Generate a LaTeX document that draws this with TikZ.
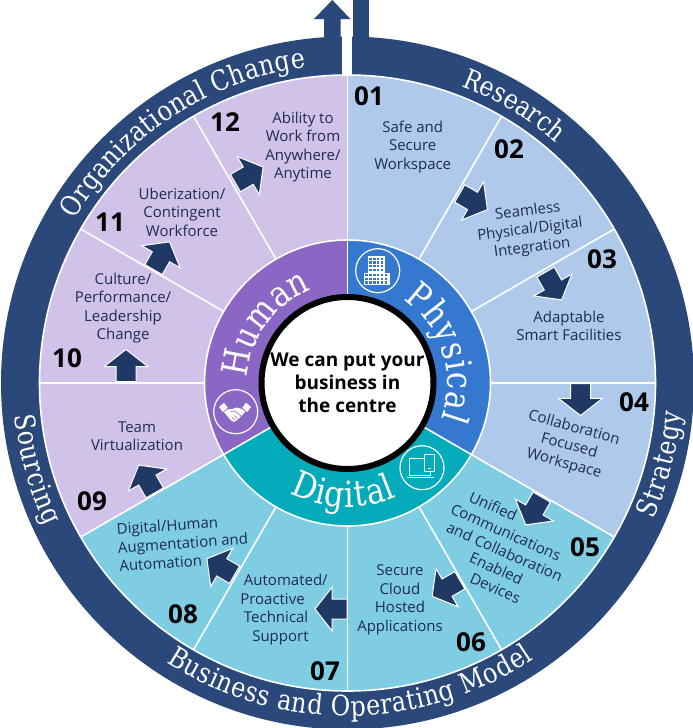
\documentclass[tikz,border=0pt]{standalone}
\usepackage{fontspec}
\setmainfont{Open Sans}
\newfontfamily\slab[FakeStretch=0.85]{DejaVu Serif}
\usetikzlibrary{decorations.text,shapes.arrows}
\definecolor{ringc}{HTML}{2A4879}
\definecolor{arrowc}{HTML}{1F3864}
\definecolor{lblue}{HTML}{AEC9EA}
\definecolor{lcyan}{HTML}{7FCDE3}
\definecolor{llilac}{HTML}{D1C2E9}
\definecolor{physc}{HTML}{3578CF}
\definecolor{digc}{HTML}{03ABBB}
\definecolor{humc}{HTML}{8A67C4}
\definecolor{labelc}{HTML}{1F2B52}
\tikzset{
  lab/.style={align=center,font=\fontsize{15}{18.5}\selectfont,text=labelc,inner sep=0pt},
  num/.style={font=\fontsize{26}{28}\selectfont\bfseries,text=black,inner sep=0pt},
  blockarrow/.style={single arrow,draw=white,line width=1pt,fill=arrowc,inner xsep=0pt,inner ysep=9.5pt,
    minimum height=32pt,single arrow head extend=12pt,
    single arrow tip angle=104,anchor=tail},
  iconring/.style={draw=white,line width=1.2pt},
  divider/.style={draw=white,line width=1.6pt}
}
\newcommand\ringtext[5]{\path[decorate,decoration={text along path,text align=fit to path,
  text={|\slab\fontsize{#1}{#1}\selectfont\color{white}|#2}}]
  (#4:#3) arc[start angle=#4,end angle=#5,radius=#3];}
\begin{document}
\begin{tikzpicture}[x=1pt,y=-1pt]
\useasboundingbox (0,0) rectangle (693,728);
\fill[white] (0,0) rectangle (693,728);
% outer ring
\fill[ringc,even odd rule] (347.5,383) circle (346.5) circle (307);
\fill[white] (341.5,0) rectangle (352,80);
\fill[ringc] (352.7,0) rectangle (369,45);
\fill[ringc] (324,50) -- (324,19) -- (314,19) -- (332.3,0) -- (350.5,19) -- (340.7,19) -- (340.7,50) -- cycle;
\begin{scope}[shift={(347.5,383)},y=1pt]
  \fill[lblue] (0,0) -- (90:308) arc[start angle=90,end angle=-30,radius=308] -- cycle;
  \fill[lcyan] (0,0) -- (-30:308) arc[start angle=-30,end angle=-150,radius=308] -- cycle;
  \fill[llilac] (0,0) -- (-150:308) arc[start angle=-150,end angle=-270,radius=308] -- cycle;
  \draw[divider] (0,0) circle (308);
  \foreach \a in {0,30,...,330} \draw[divider] (\a:143) -- (\a:308);
  \fill[physc] (0,0) -- (90:143) arc[start angle=90,end angle=-30,radius=143] -- cycle;
  \fill[digc] (0,0) -- (-30:143) arc[start angle=-30,end angle=-150,radius=143] -- cycle;
  \fill[humc] (0,0) -- (-150:143) arc[start angle=-150,end angle=-270,radius=143] -- cycle;
  \draw[divider] (0,0) circle (143);
  \foreach \a in {90,-30,-150} \draw[divider] (\a:89) -- (\a:143);
  \ringtext{27.5}{Research}{318}{69}{49}
  \ringtext{28}{Organizational Change}{318}{149}{97.5}
  \ringtext{28}{Strategy}{335}{-24}{-5}
  \ringtext{28}{Sourcing}{334}{185.5}{205.5}
  \ringtext{28}{Business and Operating Model}{333}{237}{304}
  \ringtext{36}{Physical}{100}{56}{-21}
  \ringtext{36}{Human}{100}{177}{111}
  \ringtext{36}{Digital}{124}{242}{293.5}
\end{scope}
% centre
\node[circle,draw=black,line width=6pt,fill=white,minimum size=172pt,inner sep=0pt,align=center,
  font=\fontsize{19}{22.7}\selectfont\bfseries,text=black] (centre) at (347.5,383)
  {We can put your\\business in\\the centre};
% arrows
\node[blockarrow,rotate=-30]  (a02) at (459.3,193.3) {};
\node[blockarrow,rotate=-60]  (a03) at (545.3,271.7) {};
\node[blockarrow,rotate=-90]  (a04) at (580.5,383) {};
\node[blockarrow,rotate=-120] (a05) at (542,496.7) {};
\node[blockarrow,rotate=-150] (a06) at (460.3,580) {};
\node[blockarrow,rotate=180]  (a07) at (347.5,609) {};
\node[blockarrow,rotate=150]  (a08) at (235,575) {};
\node[blockarrow,rotate=120]  (a09) at (155,493.3) {};
\node[blockarrow,rotate=90]   (a10) at (126,382) {};
\node[blockarrow,rotate=60]   (a11) at (153.3,270) {};
\node[blockarrow,rotate=30]   (a12) at (235,183.3) {};
% numbers
\node[num] (n01) at (369,96) {01};
\node[num] (n02) at (509,149) {02};
\node[num] (n03) at (602,259) {03};
\node[num] (n04) at (634,402) {04};
\node[num] (n05) at (585,547) {05};
\node[num] (n06) at (471,642) {06};
\node[num] (n07) at (325,671) {07};
\node[num] (n08) at (183,614) {08};
\node[num] (n09) at (92,501) {09};
\node[num] (n10) at (67,358) {10};
\node[num] (n11) at (110,222) {11};
\node[num] (n12) at (225,122) {12};
% labels
\node[lab] (t01) at (412.7,147) {Safe and\\Secure\\Workspace};
\node[lab,rotate=7] (t02) at (530,230) {Seamless\\Physical/Digital\\Integration};
\node[lab] (t03) at (569,326) {Adaptable\\Smart Facilities};
\node[lab,rotate=-15.5] (t04) at (569,446) {Collaboration\\Focused\\Workspace};
\node[lab,rotate=-24,align=left] (t05) at (503,551) {\hspace*{12pt}Unified\\Communications\\\hspace*{3.7pt}and Collaboration\\\hspace*{37pt}Enabled\\\hspace*{46pt}Devices};
\node[lab] (t06) at (400,600) {Secure\\Cloud\\Hosted\\Applications};
\node[lab,align=left] (t07) at (284,609.5) {\hspace*{3.7pt}Automated/\\Proactive\\\hspace*{3.7pt}Technical\\\hspace*{12pt}Support};
\node[lab,rotate=4,align=left] (t08) at (183,543) {Digital/Human\\Augmentation and\\Automation};
\node[lab] (t09) at (137,436) {Team\\Virtualization};
\node[lab] (t10) at (123,308) {Culture/\\Performance/\\Leadership\\Change};
\node[lab] (t11) at (182,212) {Uberization/\\Contingent\\Workforce};
\node[lab] (t12) at (303,147) {Ability to\\Work from\\Anywhere/\\Anytime};
% building icon
\draw[iconring] (377.7,270.7) circle (22);
\begin{scope}[shift={(353,246)}]
  \fill[white] (15,10) rectangle (32,27);
  \fill[white] (11,27) rectangle (37,39);
  \foreach \c in {0,1,2,3} \foreach \r in {0,1,2,3}
    \fill[physc] (16.4+\c*3.9,11.5+\r*3.8) rectangle ++(2.2,2.2);
  \foreach \c in {0,...,5} \foreach \r in {0,1,2}
    \fill[physc] (12.4+\c*3.95,28.2+\r*3.6) rectangle ++(2.2,2.2);
\end{scope}
% devices icon
\draw[iconring] (422,467.7) circle (22);
\begin{scope}[shift={(397,443)}]
  \draw[white,line width=1pt] (12,15) rectangle (33,32.3);
  \fill[white] (9.5,33.5) rectangle (37,35);
  \draw[white,line width=1pt,fill=digc] (27,11) rectangle (37.5,28);
  \fill[white] (31,25) rectangle (33.5,26.2);
\end{scope}
% handshake icon
\draw[iconring] (235.7,411.7) circle (22);
\begin{scope}[shift={(210,387)}]
  \fill[white] (9,20) -- (14,15.7) -- (17.7,20.7) -- (12.7,25) -- cycle;
  \fill[white] (41,20) -- (36,15.7) -- (32.3,20.7) -- (37.3,25) -- cycle;
  \fill[white] (17,22.5) -- (22,22) -- (27,20.5) -- (32,22) -- (35.5,24.5) -- (29,31.5) -- (24,35) -- (20.5,33) -- (16.5,28) -- (14,25) -- cycle;
  \draw[humc,line width=.6pt] (21,24.5) -- (25,24) -- (27,25.5) -- (32,30);
  \draw[humc,line width=.5pt] (22,30) -- (25,33) (24.5,28.5) -- (27.5,31.5);
\end{scope}
\end{tikzpicture}
\end{document}
